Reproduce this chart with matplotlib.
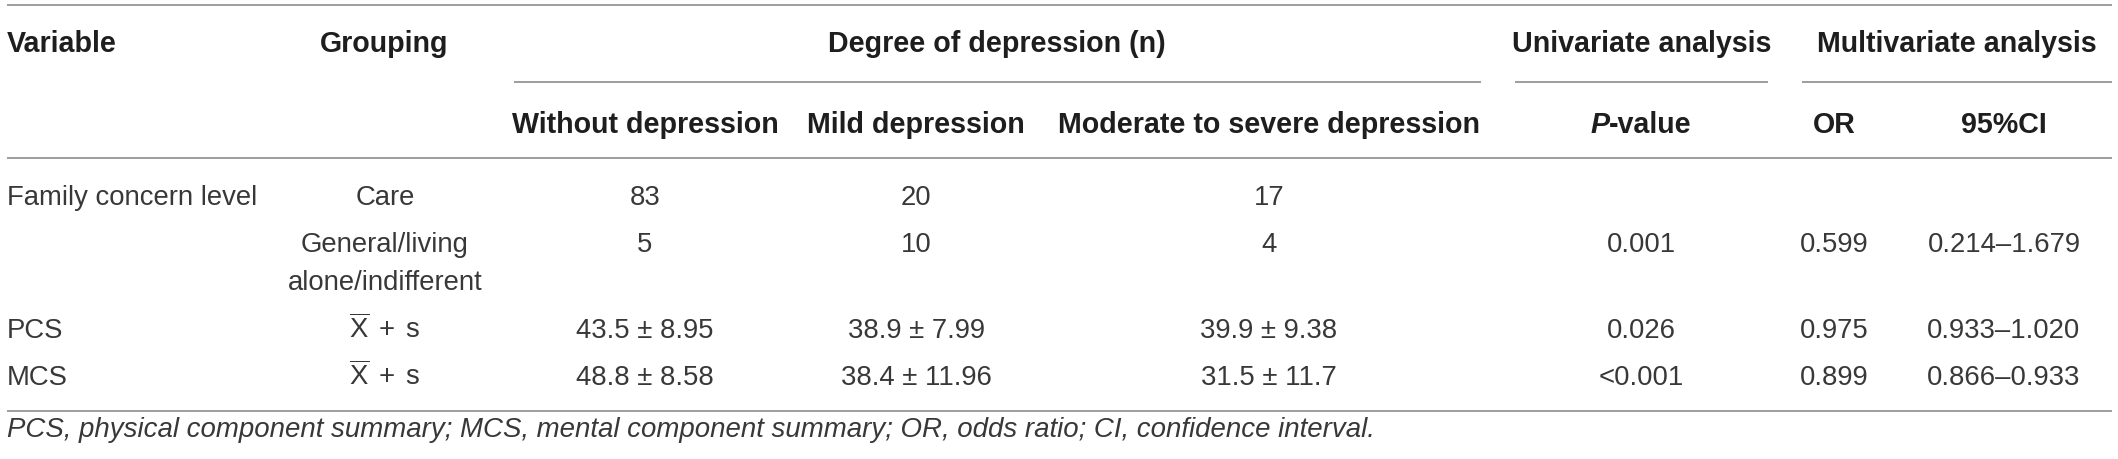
import matplotlib
matplotlib.use("Agg")
import matplotlib.pyplot as plt

plt.rcParams['font.family'] = ['Liberation Sans', 'DejaVu Sans']
plt.rcParams['mathtext.fontset'] = 'custom'
plt.rcParams['mathtext.rm'] = 'Liberation Sans'
plt.rcParams['mathtext.it'] = 'Liberation Sans:italic'
plt.rcParams['mathtext.bf'] = 'Liberation Sans:bold'

# ---- table content ----
top_headers = ["Variable", "Grouping", "Degree of depression (n)",
               "Univariate analysis", "Multivariate analysis"]
sub_headers = ["Without depression", "Mild depression",
               "Moderate to severe depression", "-value", "OR", "95%CI"]

mean_sd = r"$\overline{\mathrm{X}}\;+\;\mathrm{s}$"
variables = ["Family concern level", "", "PCS", "MCS"]
groupings = ["Care", "General/living\nalone/indifferent", mean_sd, mean_sd]
without_dep = ["83", "5", "43.5 \u00b1 8.95", "48.8 \u00b1 8.58"]
mild_dep = ["20", "10", "38.9 \u00b1 7.99", "38.4 \u00b1 11.96"]
moderate_dep = ["17", "4", "39.9 \u00b1 9.38", "31.5 \u00b1 11.7"]
p_values = ["", "0.001", "0.026", "<0.001"]
odds_ratio = ["", "0.599", "0.975", "0.899"]
conf_int = ["", "0.214\u20131.679", "0.933\u20131.020", "0.866\u20130.933"]

footnote = ("PCS, physical component summary; MCS, mental component summary; "
            "OR, odds ratio; CI, confidence interval.")

# ---- layout (pixels) ----
W, H = 2118, 459
col_x = [7, 385, 645, 916, 1269, 1641, 1834, 2004]
top_x = [7, 384, 997, 1642, 1957]
row_base = [205, 252, 338, 385]
wrap_gap = 38
body_fs = 19.8
head_fs = 20.6
line_col = "#8c8c8c"
head_col = "#1e1e1e"
body_col = "#383838"

fig = plt.figure(figsize=(W / 100, H / 100), dpi=100)
ax = fig.add_axes([0, 0, 1, 1])
ax.set_xlim(0, W)
ax.set_ylim(H, 0)
ax.axis("off")


def hline(x0, x1, y, lw=1.2):
    ax.plot([x0, x1], [y, y], color=line_col, lw=lw, solid_capstyle="butt")


hline(7, 2112, 5)
hline(514, 1481, 82)
hline(1515, 1768, 82)
hline(1802, 2112, 82)
hline(7, 2112, 158)
hline(7, 2112, 411)

# header row 1
for i, (lab, x) in enumerate(zip(top_headers, top_x)):
    ax.text(x, 52, lab, ha="left" if i == 0 else "center", va="baseline",
            fontsize=head_fs, fontweight="bold", color=head_col)

# header row 2
for lab, x in zip(sub_headers, col_x[2:]):
    if lab == "-value":
        continue
    ax.text(x, 133, lab, ha="center", va="baseline",
            fontsize=head_fs, fontweight="bold", color=head_col)

# P-value: italic P + bold "-value", centred together
tp = ax.text(0, 133, "P", ha="left", va="baseline", fontsize=head_fs,
             fontweight="bold", fontstyle="italic", color=head_col)
tv = ax.text(0, 133, "-value", ha="left", va="baseline", fontsize=head_fs,
             fontweight="bold", color=head_col)
fig.canvas.draw()
r = fig.canvas.get_renderer()
wp = tp.get_window_extent(r).width
wv = tv.get_window_extent(r).width
x0 = col_x[5] - (wp + wv) / 2
tp.set_x(x0)
tv.set_x(x0 + wp)

# body
columns = [groupings, without_dep, mild_dep, moderate_dep,
           p_values, odds_ratio, conf_int]
for j, y in enumerate(row_base):
    ax.text(col_x[0], y, variables[j], ha="left", va="baseline",
            fontsize=body_fs, color=body_col)
    for c, col in enumerate(columns):
        for k, part in enumerate(col[j].split("\n")):
            ax.text(col_x[c + 1], y + k * wrap_gap, part, ha="center",
                    va="baseline", fontsize=body_fs, color=body_col)

ax.text(7, 437, footnote, ha="left", va="baseline", fontsize=19.9,
        fontstyle="italic", color=body_col)

fig.savefig("out.png", dpi=100)
